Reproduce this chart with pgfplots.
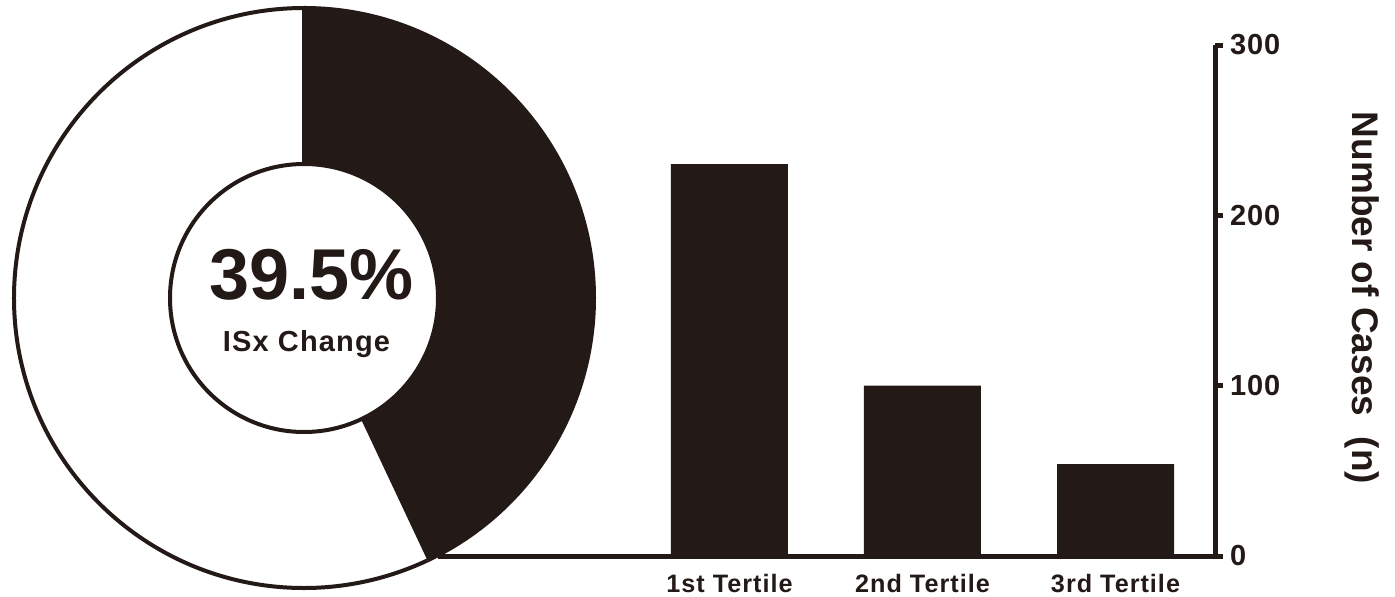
\documentclass[border=0pt]{standalone}
\usepackage{fontspec}
\setmainfont{Liberation Sans}
\usepackage{pgfplots}
\pgfplotsset{compat=1.18}
\definecolor{dk}{RGB}{35,25,22}
\pgfplotstableread{
x y
0 230
1 100
2 54
}\bars
\begin{document}
\begin{tikzpicture}
\useasboundingbox (-219pt,-20pt) rectangle (478.5pt,278pt);
\pgfmathsetmacro{\share}{43}
\pgfmathsetmacro{\endang}{90-3.6*\share}
\pgfmathsetmacro{\wend}{360+\endang}
\begin{scope}[shift={(-67pt,129pt)}]
  % white part
  \fill[white] (90:145pt) arc[start angle=90,end angle=\wend,radius=145pt]
     -- (\wend:67pt) arc[start angle=\wend,end angle=90,radius=67pt] -- cycle;
  \draw[dk,line width=2pt] (90:67pt) -- (90:145pt) arc[start angle=90,end angle=\wend,radius=145pt];
  % dark part
  \fill[dk] (90:146pt) arc[start angle=90,end angle=\endang,radius=146pt]
     -- (\endang:67pt) arc[start angle=\endang,end angle=90,radius=67pt] -- cycle;
  \filldraw[fill=white,draw=dk,line width=2pt] (0,0) circle[radius=67pt];
\end{scope}
\node[anchor=base,font=\bfseries\fontsize{36}{36}\selectfont,text=dk,inner sep=0pt] at (-63.25pt,128.5pt) {39.5\%};
\node[anchor=base,font=\bfseries\fontsize{14.5}{14.5}\selectfont\addfontfeatures{LetterSpace=4},text=dk,inner sep=0pt] at (-65.75pt,102.5pt) {ISx Change};

\begin{axis}[
  at={(0,0)}, anchor=south west, scale only axis,
  width=388.5pt, height=255.5pt,
  xmin=-1.51, xmax=2.5155, ymin=0, ymax=300,
  axis x line*=bottom, axis y line*=right,
  axis line style={line width=2.5pt, draw=dk},
  xtick={0,1,2},
  xticklabels={1st Tertile,2nd Tertile,3rd Tertile},
  x tick style={draw=none},
  ytick={0,100,200,300},
  y tick style={line width=2.5pt, draw=dk},
  tick align=outside,
  major tick length=4pt,
  /pgf/number format/assume math mode=true,
  xticklabel style={font=\bfseries\fontsize{12.6}{12.6}\selectfont\addfontfeatures{LetterSpace=4}, text=dk, yshift=-1.5pt},
  yticklabel style={font=\bfseries\fontsize{14.5}{14.5}\selectfont\addfontfeatures{LetterSpace=3}, text=dk},
  clip=false,
]
\addplot[ybar, bar width=58.5pt, bar shift=0pt, fill=dk, draw=none] table[x=x,y=y] {\bars};
\end{axis}
\node[rotate=-90,font=\bfseries\fontsize{18.5}{18.5}\selectfont,text=dk] at (462pt,129pt) {Number of Cases\ \ (n)};
\end{tikzpicture}
\end{document}
